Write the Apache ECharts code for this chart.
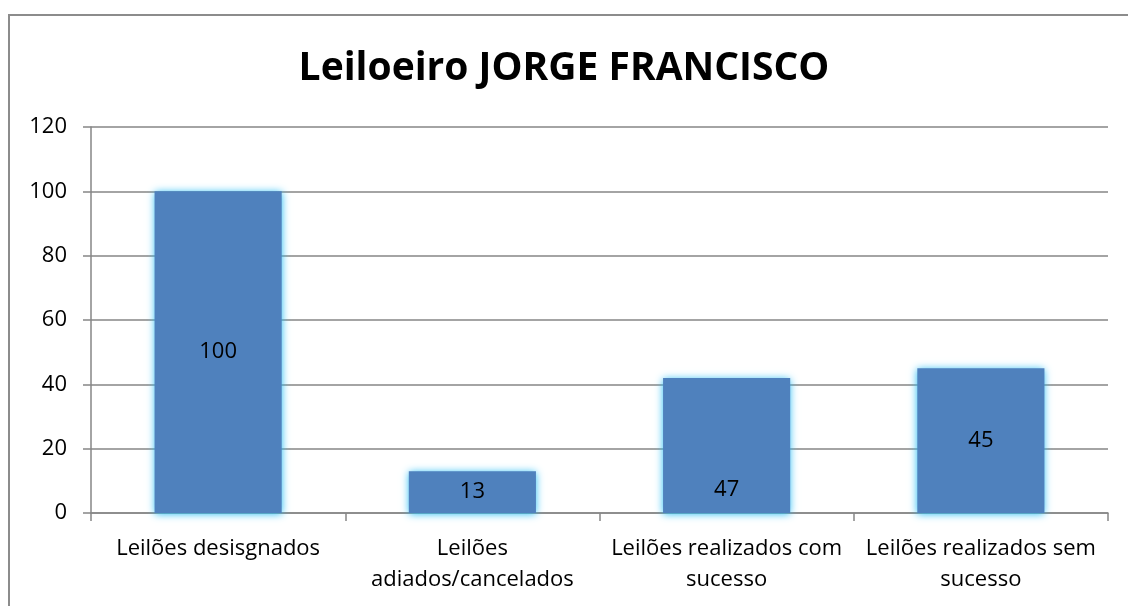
<!DOCTYPE html>
<html>
<head>
<meta charset="utf-8">
<script src="https://cdn.jsdelivr.net/npm/echarts@6/dist/echarts.min.js"></script>
<style>
html, body { margin: 0; padding: 0; background: #fff; }
#frame {
  position: absolute; left: 8px; top: 14px; width: 1200px; height: 700px;
  border: 2px solid #8c8c8c; box-sizing: border-box;
}
#chart { position: absolute; left: 0; top: 0; width: 1128px; height: 606px; }
</style>
</head>
<body>
<div id="frame"></div>
<div id="chart"></div>
<script>
// dados do grafico
const categories = ['Leilões desisgnados', 'Leilões\nadiados/cancelados', 'Leilões realizados com\nsucesso', 'Leilões realizados sem\nsucesso'];
const values = [100, 13, 42, 45];
const labels = ['100', '13', '47', '45'];
const yTicks = [0, 20, 40, 60, 80, 100, 120];

const font = '"Open Sans", "Liberation Sans", sans-serif';

let myChart = echarts.init(document.getElementById('chart'));

let barData = values.map(function (v, i) {
  let item = { value: v };
  // o rotulo do terceiro fica perto da base
  if (i === 2) {
    item.label = { position: 'insideBottom', distance: 12 };
  }
  return item;
});

myChart.setOption({
  backgroundColor: 'transparent',
  animation: false,
  title: {
    text: 'Leiloeiro JORGE FRANCISCO',
    left: 'center',
    top: 44,
    textStyle: { fontFamily: font, fontWeight: 'bold', fontSize: 39, color: '#000' }
  },
  grid: { left: 91, right: 20, top: 127, bottom: 93 },
  xAxis: {
    type: 'category',
    data: categories,
    axisLine: { lineStyle: { color: '#868686', width: 1.5 } },
    axisTick: { show: true, length: 8, lineStyle: { color: '#868686', width: 1.5 } },
    axisLabel: { color: '#000', fontFamily: font, fontSize: 22, lineHeight: 31, margin: 20, interval: 0 }
  },
  yAxis: {
    type: 'value',
    min: yTicks[0],
    max: yTicks[yTicks.length - 1],
    interval: 20,
    axisLine: { show: true, lineStyle: { color: '#868686', width: 1.5 } },
    axisTick: { show: true, length: 8, lineStyle: { color: '#868686', width: 1.5 } },
    splitLine: { lineStyle: { color: '#868686', width: 1.5 } },
    axisLabel: { color: '#000', fontFamily: font, fontSize: 22, margin: 24 }
  },
  series: [{
    type: 'bar',
    data: barData,
    barWidth: '50%',
    itemStyle: {
      color: '#4f81bd',
      shadowColor: 'rgba(40, 190, 245, 1)',
      shadowBlur: 8,
      shadowOffsetX: 0,
      shadowOffsetY: 1
    },
    label: {
      show: true,
      position: 'inside',
      color: '#000',
      fontFamily: font,
      fontSize: 22,
      formatter: function (p) { return labels[p.dataIndex]; }
    }
  }]
});
</script>
</body>
</html>
